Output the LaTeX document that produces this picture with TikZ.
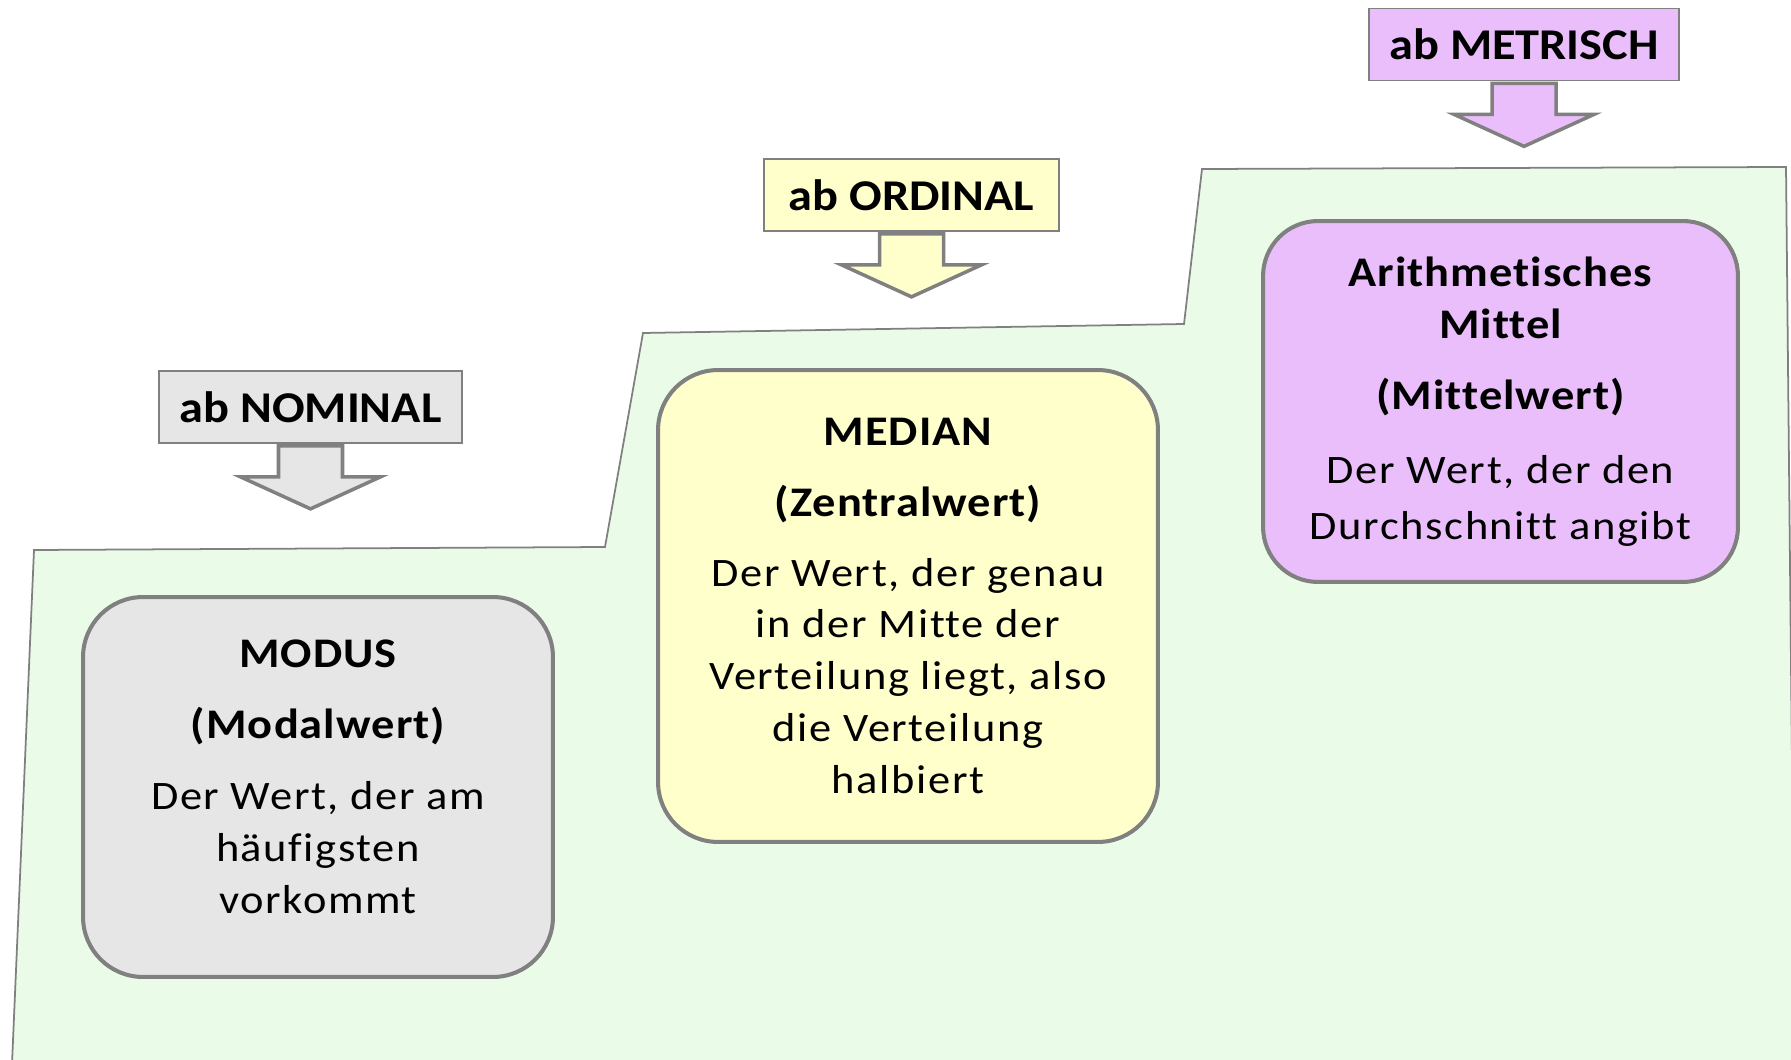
\documentclass[tikz,border=0pt]{standalone}
\usepackage{fontspec}
\setmainfont{Carlito}
\newfontfamily\bodyfont{Carlito}[FakeStretch=1.1, LetterSpace=4, Ligatures=NoCommon]
\newfontfamily\titlefont{Carlito}[FakeStretch=1.1, LetterSpace=2.5, Ligatures=NoCommon]
\newfontfamily\labelfont{Carlito}[FakeStretch=1.1, Ligatures=NoCommon]
\usepackage{tikz}
\usetikzlibrary{shapes,arrows,positioning}
\definecolor{stepgreen}{HTML}{EAFCE8}
\definecolor{edgegray}{HTML}{808080}
\definecolor{nomfill}{HTML}{E6E6E6}
\definecolor{ordfill}{HTML}{FFFFCC}
\definecolor{metfill}{HTML}{E9BEFA}
\tikzstyle{line} = [draw=edgegray, line width=1pt]
\tikzstyle{lbox} = [rectangle, draw=edgegray, line width=1pt, minimum height=1.44cm, font=\labelfont\fontsize{25}{30}\selectfont\bfseries]
\tikzstyle{mbox} = [rectangle, rounded corners=1.2cm, draw=edgegray, line width=2.3pt, align=center, font=\bodyfont\fontsize{23}{29.5}\selectfont]
\tikzstyle{barrow} = [draw=edgegray, line width=2pt, line join=miter]
\newcommand{\boxtitle}[1]{{\titlefont\bfseries\fontsize{24}{29.5}\selectfont #1}}

\begin{document}
\begin{tikzpicture}[x=0.02cm, y=-0.02cm]
			\useasboundingbox (0,0) rectangle (1791,1060);
			% the three steps
			\begin{scope}
				\clip (0,0) rectangle (1791,1060);
				\path [line, fill=stepgreen] (12,1064) -- (34,550) -- (605,547) -- (643,333) -- (1184,324)
					-- (1202,169) -- (1786,167) -- (1795,1064) -- cycle;
			\end{scope}
			
			\node [mbox, fill=nomfill, minimum width=9.4cm, minimum height=7.6cm, text depth=12pt] (modus) at (318,787)
				{\boxtitle{MODUS}\\[11pt]\boxtitle{(Modalwert)}\\[11pt]Der Wert, der am\\häufigsten\\vorkommt};
			\node [mbox, fill=ordfill, minimum width=10cm, minimum height=9.44cm] (median) at (908,606)
				{\boxtitle{MEDIAN}\\[11pt]\boxtitle{(Zentralwert)}\\[10pt]Der Wert, der genau\\in der Mitte der\\Verteilung liegt, also\\die Verteilung\\halbiert};
			\node [mbox, fill=metfill, rounded corners=1.1cm, minimum width=9.5cm, minimum height=7.22cm] (mittel) at (1500.5,401.5)
				{\boxtitle{Arithmetisches}\\\boxtitle{Mittel}\\[11pt]\boxtitle{(Mittelwert)}\\[13pt]Der Wert, der den\\[2pt]Durchschnitt angibt};
			
			\node [lbox, fill=nomfill, minimum width=6.06cm] (nom) at (310.5,407) {ab NOMINAL};
			\node [lbox, fill=ordfill, minimum width=5.9cm] (ord) at (911.5,195) {ab ORDINAL};
			\node [lbox, fill=metfill, minimum width=6.2cm] (met) at (1524,44.5) {ab METRISCH};
			
			% block arrows under the labels
			\foreach \n/\c in {nom/nomfill, ord/ordfill, met/metfill}
				\path [barrow, fill=\c] (\n.south) ++(-32,2) -- ++(64,0) -- ++(0,31) -- ++(38,0)
					-- ++(-70,32) -- ++(-70,-32) -- ++(38,0) -- cycle;
		\end{tikzpicture}
\end{document}
